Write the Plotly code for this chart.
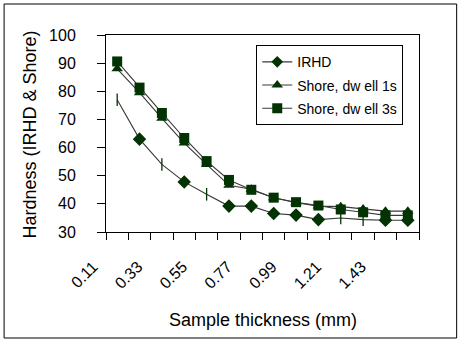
import plotly.graph_objects as go

categories = ["0.11", "0.22", "0.33", "0.44", "0.55", "0.66", "0.77",
              "0.88", "0.99", "1.10", "1.21", "1.32", "1.43", "1.54"]
tick_labels = ["0.11", "", "0.33", "", "0.55", "", "0.77", "",
               "0.99", "", "1.21", "", "1.43", ""]
irhd = [77, 63, 54, 47.8, 43.4, 39.2, 39.2, 36.6, 36.0, 34.4, 35.0, 34.4, 34.2, 34.2]
shore_1s = [88, 79.5, 70.4, 61.6, 54.0, 46.6, 45.2, 42.2, 40.4, 39.2, 39.0, 38.2, 37.4, 37.4]
shore_3s = [90.6, 81.3, 72.3, 63.4, 55.2, 48.5, 45.0, 42.2, 40.6, 39.4, 38.0, 37.0, 35.9, 35.9]
irhd_symbols = ["line-ns", "diamond", "line-ns", "diamond", "line-ns", "diamond", "diamond",
                "diamond", "diamond", "diamond", "line-ns", "line-ns", "diamond", "diamond"]

FONT = "Arial, Liberation Sans, sans-serif"
LINE = "#383838"
MARK = "#033303"

fig = go.Figure()
fig.add_trace(go.Scatter(
    x=categories, y=irhd, name="IRHD", mode="lines+markers", showlegend=False,
    line=dict(color=LINE, width=1.1),
    marker=dict(symbol=irhd_symbols, size=9, color=MARK, line=dict(color=MARK, width=1.3)),
))
# legend entry for IRHD (diamond marker)
fig.add_trace(go.Scatter(
    x=[None], y=[None], name="IRHD", mode="lines+markers", legendgroup="a",
    line=dict(color=LINE, width=1.1),
    marker=dict(symbol="diamond", size=9, color=MARK),
))
fig.add_trace(go.Scatter(
    x=categories, y=shore_1s, name="Shore, dw ell 1s", mode="lines+markers", legendgroup="b",
    line=dict(color=LINE, width=1.1),
    marker=dict(symbol="triangle-up", size=10, color=MARK),
))
fig.add_trace(go.Scatter(
    x=categories, y=shore_3s, name="Shore, dw ell 3s", mode="lines+markers", legendgroup="c",
    line=dict(color=LINE, width=1.1),
    marker=dict(symbol="square", size=10, color=MARK),
))

fig.update_layout(
    width=466, height=343,
    margin=dict(l=106, r=47, t=35, b=111),
    paper_bgcolor="white", plot_bgcolor="white",
    font=dict(family=FONT, color="black"),
    showlegend=True,
    legend=dict(x=0.48, y=0.948, xanchor="left", yanchor="top",
                bordercolor="black", borderwidth=1, bgcolor="white",
                font=dict(size=14, family=FONT, color="black"),
                tracegroupgap=2, traceorder="grouped"),
    xaxis=dict(type="category", categoryorder="array", categoryarray=categories,
               tickvals=categories, ticktext=tick_labels, tickson="boundaries",
               range=[-0.5, len(categories) - 0.5],
               ticks="outside", ticklen=7, tickcolor="black", tickwidth=1,
               showline=True, linecolor="black", linewidth=1, mirror=True,
               showgrid=False, zeroline=False, tickangle=-45,
               tickfont=dict(size=16, family=FONT, color="black"),
               ticklabelstandoff=18, ticklabelshift=-24),
    yaxis=dict(range=[30, 100], tickvals=[30, 40, 50, 60, 70, 80, 90, 100],
               ticks="outside", ticklen=8, tickcolor="black", tickwidth=1,
               showline=True, linecolor="black", linewidth=1, mirror=True,
               showgrid=False, zeroline=False,
               tickfont=dict(size=16, family=FONT, color="black"),
               ticklabelstandoff=18),
    annotations=[
        dict(text="Sample thickness (mm)", xref="paper", yref="paper", x=0.5, y=-0.447,
             xanchor="center", yanchor="middle", showarrow=False,
             font=dict(size=18, family=FONT, color="black")),
        dict(text="Hardness (IRHD & Shore)", xref="paper", yref="paper", x=-0.2426, y=0.495,
             xanchor="center", yanchor="middle", showarrow=False, textangle=-90,
             font=dict(size=18, family=FONT, color="black")),
    ],
    shapes=[
        dict(type="rect", xref="paper", yref="paper",
             x0=(4 - 106) / 313.3, x1=(457 - 106) / 313.3,
             y0=(232 - 338) / 197, y1=(232 - 4) / 197,
             line=dict(color="black", width=1), fillcolor="rgba(0,0,0,0)", layer="below"),
    ],
)

fig.write_html("out.html")
